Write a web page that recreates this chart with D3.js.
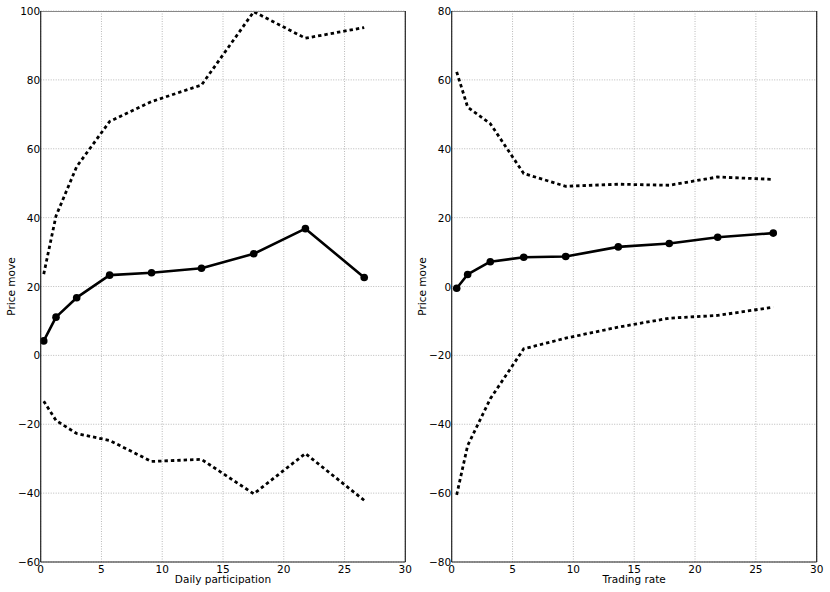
<!DOCTYPE html>
<html><head><meta charset="utf-8">
<script src="https://cdn.jsdelivr.net/npm/d3@7"></script>
<style>body{margin:0;background:#fff}svg{display:block}text{font-family:"DejaVu Sans",sans-serif;fill:#000}</style>
</head><body><svg id="c" width="830" height="592"></svg>
<script>
const leftX = [0.25, 1.26, 2.96, 5.67, 9.12, 13.23, 17.53, 21.78, 26.62];
const leftMid = [4.2, 11.1, 16.75, 23.3, 24.0, 25.3, 29.5, 36.8, 22.6];
const leftUpper = [23.6, 40.5, 54.8, 67.9, 73.7, 78.5, 99.8, 92.1, 95.2];
const leftLower = [-13.3, -18.9, -22.7, -24.7, -30.8, -30.2, -40.2, -28.5, -42.1];

const rightX = [0.41, 1.31, 3.17, 5.92, 9.37, 13.69, 17.88, 21.86, 26.43];
const rightMid = [-0.5, 3.5, 7.2, 8.5, 8.7, 11.5, 12.5, 14.3, 15.5];
const rightUpper = [62.3, 52.1, 47.3, 32.8, 29.1, 29.7, 29.4, 31.8, 31.1];
const rightLower = [-60.5, -46.2, -32.6, -18.1, -15.0, -11.8, -9.2, -8.4, -6.0];

const xTicks = [0, 5, 10, 15, 20, 25, 30];
const leftYTicks = [-60, -40, -20, 0, 20, 40, 60, 80, 100];
const rightYTicks = [-80, -60, -40, -20, 0, 20, 40, 60, 80];

const svg = d3.select("#c");

function panel(opts) {
  const {x0, x1, y0, y1, xDomain, yDomain, xt, yt, xs, mid, up, lo, xlabel} = opts;
  const x = d3.scaleLinear().domain(xDomain).range([x0, x1]);
  const y = d3.scaleLinear().domain(yDomain).range([y1, y0]);
  const g = svg.append("g");
  // grid
  g.selectAll(".gx").data(xt).join("line")
    .attr("x1", d => x(d)).attr("x2", d => x(d)).attr("y1", y0).attr("y2", y1)
    .attr("stroke", "#a8a8a8").attr("stroke-width", 0.8).attr("stroke-dasharray", "1,1.5");
  g.selectAll(".gy").data(yt).join("line")
    .attr("y1", d => y(d)).attr("y2", d => y(d)).attr("x1", x0).attr("x2", x1)
    .attr("stroke", "#a8a8a8").attr("stroke-width", 0.8).attr("stroke-dasharray", "1,1.5");
  const line = d3.line().x((d, i) => x(xs[i])).y(d => y(d));
  const clip = "clip" + Math.round(x0);
  svg.append("clipPath").attr("id", clip).append("rect")
    .attr("x", x0).attr("y", y0 - 2).attr("width", x1 - x0).attr("height", y1 - y0 + 2);
  const lg = g.append("g").attr("clip-path", `url(#${clip})`);
  [up, lo].forEach(s => lg.append("path").datum(s).attr("d", line)
    .attr("fill", "none").attr("stroke", "#000").attr("stroke-width", 2.8)
    .attr("stroke-dasharray", "3.4,3"));
  lg.append("path").datum(mid).attr("d", line)
    .attr("fill", "none").attr("stroke", "#000").attr("stroke-width", 2.6)
    .attr("stroke-linejoin", "round");
  g.selectAll(".pt").data(mid).join("circle")
    .attr("cx", (d, i) => x(xs[i])).attr("cy", d => y(d)).attr("r", 3.8).attr("fill", "#000");
  // spines
  g.append("line").attr("x1", x0).attr("x2", x1).attr("y1", y0 + 0.5).attr("y2", y0 + 0.5)
    .attr("stroke", "#888").attr("stroke-width", 1);
  g.append("line").attr("x1", x0).attr("x2", x1).attr("y1", y1).attr("y2", y1)
    .attr("stroke", "#222").attr("stroke-width", 1.2);
  g.append("line").attr("x1", x0).attr("x2", x0).attr("y1", y0).attr("y2", y1)
    .attr("stroke", "#222").attr("stroke-width", 1.2);
  g.append("line").attr("x1", x1).attr("x2", x1).attr("y1", y0).attr("y2", y1)
    .attr("stroke", "#222").attr("stroke-width", 1.2);
  // tick labels
  const fmt = d => d < 0 ? "\u2212" + Math.abs(d) : String(d);
  g.selectAll(".xl").data(xt).join("text")
    .attr("x", d => x(d)).attr("y", y1 + 10.5).attr("text-anchor", "middle")
    .attr("font-size", 10.5).text(fmt);
  g.selectAll(".yl").data(yt).join("text")
    .attr("x", x0 - 0.5).attr("y", d => y(d) + 4).attr("text-anchor", "end")
    .attr("font-size", 10.5).text(fmt);
  g.append("text").attr("x", (x0 + x1) / 2).attr("y", y1 + 20.5).attr("text-anchor", "middle")
    .attr("font-size", 10.5).text(xlabel);
  g.append("text").attr("transform", `translate(${x0 - 25.5},${(y0 + y1) / 2}) rotate(-90)`)
    .attr("text-anchor", "middle").attr("font-size", 10.5).text("Price move");
}

panel({x0: 40.7, x1: 405.3, y0: 11, y1: 562, xDomain: [0, 30], yDomain: [-60, 100],
  xt: xTicks, yt: leftYTicks, xs: leftX, mid: leftMid, up: leftUpper, lo: leftLower,
  xlabel: "Daily participation"});
panel({x0: 451.7, x1: 816.7, y0: 11, y1: 562, xDomain: [0, 30], yDomain: [-80, 80],
  xt: xTicks, yt: rightYTicks, xs: rightX, mid: rightMid, up: rightUpper, lo: rightLower,
  xlabel: "Trading rate"});
</script></body></html>
